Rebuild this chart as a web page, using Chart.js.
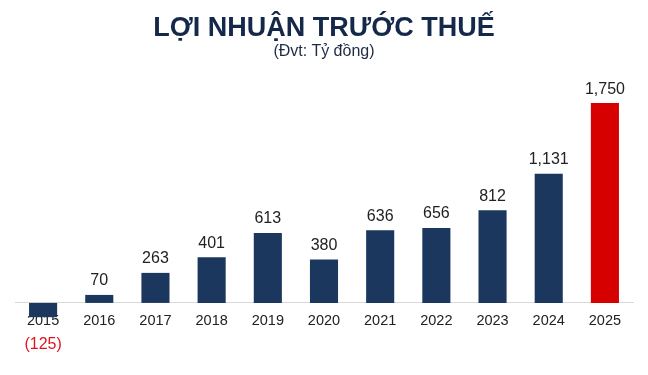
<!DOCTYPE html>
<html>
<head>
<meta charset="utf-8">
<script src="https://cdn.jsdelivr.net/npm/chart.js@4.4.0/dist/chart.umd.min.js"></script>
<style>
  html, body { margin: 0; padding: 0; background: #fff; }
  #wrap { position: relative; width: 648px; height: 375px; }
  #title {
    position: absolute; left: 0; top: 11px; width: 648px; text-align: center;
    font-family: "Liberation Sans", Arial, sans-serif;
    font-weight: bold; font-size: 27px; color: #14284a; line-height: 32px;
  }
  #sub {
    position: absolute; left: 0; top: 42px; width: 648px; text-align: center;
    font-family: "Liberation Sans", Arial, sans-serif;
    font-size: 16px; color: #1f2a44; line-height: 18px;
  }
</style>
</head>
<body>
<div id="wrap">
  <canvas id="chart" width="648" height="375"></canvas>
  <div id="title">LỢI NHUẬN TRƯỚC THUẾ</div>
  <div id="sub">(Đvt: Tỷ đồng)</div>
</div>
<script>
const years = ['2015', '2016', '2017', '2018', '2019', '2020', '2021', '2022', '2023', '2024', '2025'];
const profit = [-125, 70, 263, 401, 613, 380, 636, 656, 812, 1131, 1750];

const NAVY = '#1b375e';
const RED = '#d60000';

// value labels above the bars, negatives shown in brackets below the year
const valueLabels = {
  id: 'valueLabels',
  afterDatasetsDraw(chart) {
    const { ctx } = chart;
    const meta = chart.getDatasetMeta(0);
    ctx.save();
    ctx.font = '16px "Liberation Sans", Arial, sans-serif';
    ctx.textAlign = 'center';
    ctx.textBaseline = 'middle';
    meta.data.forEach((bar, i) => {
      const v = profit[i];
      if (v >= 0) {
        ctx.fillStyle = '#222';
        ctx.fillText(v.toLocaleString('en-US'), bar.x, bar.y - 14);
      } else {
        ctx.fillStyle = '#e0141e';
        ctx.fillText('(' + Math.abs(v).toLocaleString('en-US') + ')', bar.x, bar.y + 27);
      }
    });
    ctx.restore();
  }
};

new Chart(document.getElementById('chart'), {
  type: 'bar',
  data: {
    labels: years,
    datasets: [{
      data: profit,
      backgroundColor: c => c.dataIndex === years.length - 1 ? RED : NAVY,
      barPercentage: 0.5,
      categoryPercentage: 1.0
    }]
  },
  options: {
    responsive: false,
    animation: false,
    layout: { padding: { top: 70, left: 15, right: 15, bottom: 15 } },
    plugins: { legend: { display: false }, tooltip: { enabled: false } },
    scales: {
      x: {
        position: { y: 0 },
        grid: { display: false, drawTicks: false },
        border: { display: true, color: '#d9d9d9', width: 1 },
        ticks: {
          color: '#222',
          padding: 9,
          font: { family: '"Liberation Sans", Arial, sans-serif', size: 14.5 }
        }
      },
      y: {
        display: false,
        min: -500,
        max: 2040
      }
    }
  },
  plugins: [valueLabels]
});
</script>
</body>
</html>
